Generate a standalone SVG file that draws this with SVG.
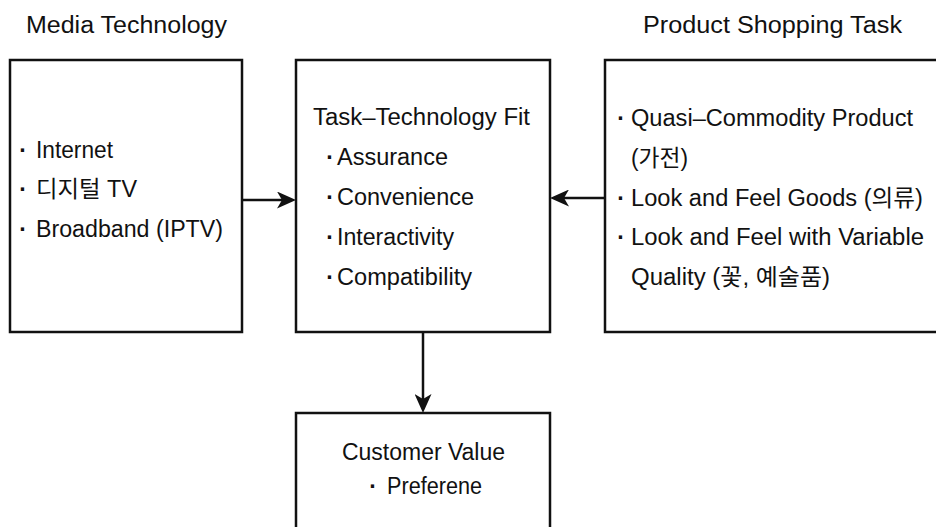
<svg xmlns="http://www.w3.org/2000/svg" width="936" height="527" viewBox="0 0 936 527">
  <style>
    text { font-family: "Liberation Sans", "Noto Sans CJK KR", sans-serif; font-size: 23px; fill: #111; }
    .box { fill: #fff; stroke: #111; stroke-width: 2.5; }
    .conn { stroke: #111; stroke-width: 2.5; fill: none; }
    .b { text-anchor: middle; font-weight: bold; }
  </style>
  <defs>
    <marker id="arr" viewBox="0 0 19 17" refX="14" refY="8.5" markerWidth="19" markerHeight="17" markerUnits="userSpaceOnUse" orient="auto">
      <path d="M0,0 L19,8.5 L0,17 L5,8.5 Z" fill="#111"/>
    </marker>
  </defs>
  <rect width="936" height="527" fill="#fff"/>

  <g id="headers">
    <text x="26" y="33" textLength="201" lengthAdjust="spacingAndGlyphs">Media Technology</text>
    <text x="643" y="33" textLength="259" lengthAdjust="spacingAndGlyphs">Product Shopping Task</text>
  </g>

  <g id="connectors">
    <line class="conn" x1="242" y1="200" x2="291" y2="200" marker-end="url(#arr)"/>
    <line class="conn" x1="605" y1="198" x2="555" y2="198" marker-end="url(#arr)"/>
    <line class="conn" x1="423" y1="332" x2="423" y2="408" marker-end="url(#arr)"/>
  </g>

  <g id="media-technology">
    <rect class="box" x="10" y="60" width="232" height="272"/>
    <text class="b" x="23" y="158">·</text>
    <text x="36" y="158" textLength="77" lengthAdjust="spacingAndGlyphs">Internet</text>
    <text class="b" x="23" y="197">·</text>
    <text x="36" y="197" textLength="101" lengthAdjust="spacingAndGlyphs">디지털 TV</text>
    <text class="b" x="23" y="237">·</text>
    <text x="36" y="237" textLength="187" lengthAdjust="spacingAndGlyphs">Broadband (IPTV)</text>
  </g>

  <g id="task-technology-fit">
    <rect class="box" x="296" y="60" width="254" height="272"/>
    <text x="313" y="125" textLength="217" lengthAdjust="spacingAndGlyphs">Task–Technology Fit</text>
    <text class="b" x="330" y="165">·</text>
    <text x="337" y="165" textLength="111" lengthAdjust="spacingAndGlyphs">Assurance</text>
    <text class="b" x="330" y="205">·</text>
    <text x="337" y="205" textLength="137" lengthAdjust="spacingAndGlyphs">Convenience</text>
    <text class="b" x="330" y="245">·</text>
    <text x="337" y="245" textLength="117" lengthAdjust="spacingAndGlyphs">Interactivity</text>
    <text class="b" x="330" y="285">·</text>
    <text x="337" y="285" textLength="135" lengthAdjust="spacingAndGlyphs">Compatibility</text>
  </g>

  <g id="product-shopping-task">
    <rect class="box" x="605" y="60" width="345" height="272"/>
    <text class="b" x="621" y="126">·</text>
    <text x="631" y="126" textLength="282" lengthAdjust="spacingAndGlyphs">Quasi–Commodity Product</text>
    <text x="631" y="166" textLength="57" lengthAdjust="spacingAndGlyphs">(가전)</text>
    <text class="b" x="621" y="206">·</text>
    <text x="631" y="206" textLength="292" lengthAdjust="spacingAndGlyphs">Look and Feel Goods (의류)</text>
    <text class="b" x="621" y="245">·</text>
    <text x="631" y="245" textLength="293" lengthAdjust="spacingAndGlyphs">Look and Feel with Variable</text>
    <text x="631" y="285" textLength="199" lengthAdjust="spacingAndGlyphs">Quality (꽃, 예술품)</text>
  </g>

  <g id="customer-value">
    <rect class="box" x="296" y="413" width="254" height="130"/>
    <text x="342" y="460" textLength="163" lengthAdjust="spacingAndGlyphs">Customer Value</text>
    <text class="b" x="373" y="494">·</text>
    <text x="387" y="494" textLength="95" lengthAdjust="spacingAndGlyphs">Preferene</text>
  </g>
</svg>
